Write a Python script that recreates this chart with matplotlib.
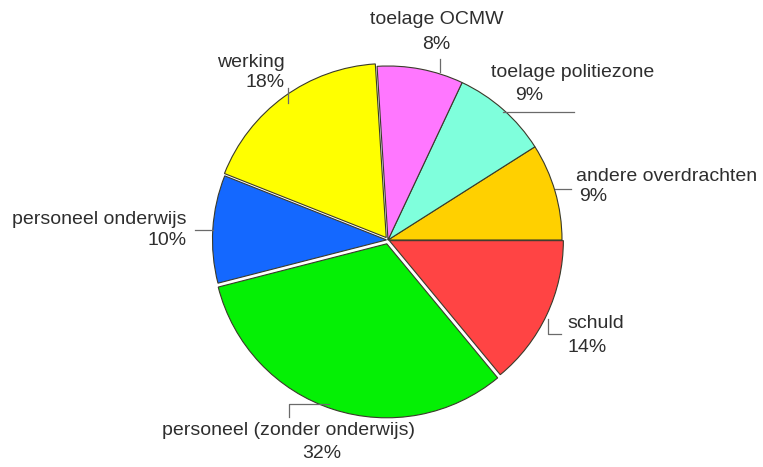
import numpy as np
import matplotlib.pyplot as plt

labels = ["andere overdrachten", "toelage politiezone", "toelage OCMW", "werking",
          "personeel onderwijs", "personeel (zonder onderwijs)", "schuld"]
shares = [9, 9, 8, 18, 10, 32, 14]
colors = ["#FFD000", "#7FFFDC", "#FF77FF", "#FFFF00", "#1468FF", "#05F005", "#FF4444"]
explode = [0, 0, 0, 3, 1.5, 4, 1.5]

# label layout, offsets in pixels (y down) relative to the wedge edge at mid-angle:
# leader polyline, name (dx, dy, ha), percentage (dx, dy, ha)
layout = [
    dict(line=[(0, -2), (16, -2)], name=(21, -15, 'left'), pct=(24, 5, 'left')),
    dict(line=[(0, 3), (71, 3)], name=(-12, -37, 'left'), pct=(26, -14, 'center')),
    dict(line=[(19, 3), (19, -10)], name=(16, -50, 'center'), pct=(16, -25, 'center')),
    dict(line=[(4, 6), (4, -9)], name=(1, -34, 'right'), pct=(1, -14, 'right')),
    dict(line=[(0, 1), (-18, 1)], name=(-26, -9, 'right'), pct=(-26, 12, 'right')),
    dict(line=[(-4, -5), (-44, -5), (-44, 8)], name=(-44, 21, 'center'), pct=(-11, 44, 'center')),
    dict(line=[(1, 4), (1, 19), (14, 19)], name=(21, 9, 'left'), pct=(21, 33, 'left')),
]

W, H = 763, 467
cx, cy, R = 388, H - 240, 174

plt.rcParams['font.family'] = ['Liberation Sans', 'DejaVu Sans']

fig = plt.figure(figsize=(W / 100, H / 100), dpi=100)
ax = fig.add_axes([0, 0, 1, 1])

wedges, _ = ax.pie(shares, colors=colors, startangle=0, counterclock=True,
                   radius=R, center=(cx, cy), explode=explode,
                   wedgeprops=dict(edgecolor="#3a3a2a", linewidth=0.8), frame=True)
ax.set_xlim(0, W)
ax.set_ylim(0, H)
ax.set_aspect('equal')
ax.axis('off')

fs = 14
tc = "#2e2e2e"
lc = "#6a6a6a"

for w, lab, pct, lay in zip(wedges, labels, shares, layout):
    mid = np.deg2rad((w.theta1 + w.theta2) / 2)
    ox, oy = w.center
    ex, ey = ox + R * np.cos(mid), oy + R * np.sin(mid)
    xs = [ex + dx for dx, dy in lay['line']]
    ys = [ey - dy for dx, dy in lay['line']]
    ax.plot(xs, ys, color=lc, lw=0.9)
    dx, dy, ha = lay['name']
    ax.text(ex + dx, ey - dy, lab, ha=ha, va='center', fontsize=fs, color=tc)
    dx, dy, ha = lay['pct']
    ax.text(ex + dx, ey - dy, f"{pct}%", ha=ha, va='center', fontsize=fs, color=tc)

fig.savefig("out.png", dpi=100, facecolor="white")
